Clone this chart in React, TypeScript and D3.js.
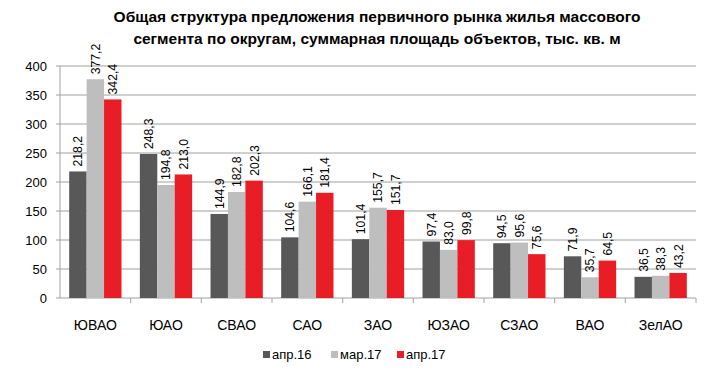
import React from "react";
import * as d3 from "d3";

const categories = ["ЮВАО", "ЮАО", "СВАО", "САО", "ЗАО", "ЮЗАО", "СЗАО", "ВАО", "ЗелАО"];
const seriesNames = ["апр.16", "мар.17", "апр.17"];
const apr16 = [218.2, 248.3, 144.9, 104.6, 101.4, 97.4, 94.5, 71.9, 36.5];
const mar17 = [377.2, 194.8, 182.8, 166.1, 155.7, 83.0, 95.6, 35.7, 38.3];
const apr17 = [342.4, 213.0, 202.3, 181.4, 151.7, 99.8, 75.6, 64.5, 43.2];
const yTicks = [0, 50, 100, 150, 200, 250, 300, 350, 400];
const titleLines = [
  "Общая структура  предложения первичного рынка жилья массового",
  "сегмента по округам, суммарная площадь объектов, тыс. кв. м",
];

const colors = ["#585858", "#BEBEBE", "#E91D25"];
const FONT = "Arial, 'Liberation Sans', sans-serif";

export default function App() {
  const W = 708, H = 376;
  const left = 60, right = 696, top = 66, bottom = 298;
  const series = [apr16, mar17, apr17];

  const x = d3.scaleBand<string>().domain(categories).range([left, right]).paddingInner(0.26).paddingOuter(0.13);
  const xs = d3.scaleBand<number>().domain([0, 1, 2]).range([0, x.bandwidth()]);
  const y = d3.scaleLinear().domain([0, 400]).range([bottom, top]);
  const step = x.step();
  const fmt = (v: number) => v.toFixed(1).replace(".", ",");

  return (
    <svg width={W} height={H} style={{ position: "absolute", left: 0, top: 0, background: "#fff" }} fontFamily={FONT}>
      <rect x={0} y={0} width={W} height={H} fill="#fff" />
      {titleLines.map((t, i) => (
        <text key={i} x={377} y={22 + i * 21.5} textAnchor="middle" fontSize={15.5} fontWeight="bold" fill="#000">
          {t}
        </text>
      ))}
      {yTicks.map((t) => (
        <g key={t}>
          {t > 0 && <line x1={left} x2={right} y1={y(t)} y2={y(t)} stroke="#a0a0a0" strokeWidth={1} />}
          <line x1={left - 4} x2={left} y1={y(t)} y2={y(t)} stroke="#a0a0a0" strokeWidth={1} />
          <text x={47} y={y(t)} dy="0.35em" textAnchor="end" fontSize={13} fill="#000">
            {t}
          </text>
        </g>
      ))}
      <line x1={left} x2={left} y1={top} y2={bottom} stroke="#a0a0a0" strokeWidth={1} />
      <line x1={left} x2={right} y1={bottom} y2={bottom} stroke="#a0a0a0" strokeWidth={1} />
      {categories.map((c, i) => (
        <line key={"t" + i} x1={left + (i + 1) * step} x2={left + (i + 1) * step} y1={bottom} y2={bottom + 5} stroke="#a0a0a0" />
      ))}
      {series.map((vals, si) =>
        vals.map((v, ci) => {
          const bx = (x(categories[ci]) as number) + (xs(si) as number);
          const bw = xs.bandwidth();
          const cx = bx + bw / 2;
          const ty = y(v) - 5;
          return (
            <g key={si + "-" + ci}>
              <rect x={bx} y={y(v)} width={bw} height={bottom - y(v)} fill={colors[si]} />
              <text
                transform={`translate(${cx},${ty}) rotate(-90)`}
                dy="0.36em"
                textAnchor="start"
                fontSize={12.2}
                fill="#000"
              >
                {fmt(v)}
              </text>
            </g>
          );
        })
      )}
      {categories.map((c) => (
        <text key={c} x={(x(c) as number) + x.bandwidth() / 2} y={330} textAnchor="middle" fontSize={14} fill="#000">
          {c}
        </text>
      ))}
      {seriesNames.map((s, i) => {
        const lx = [263, 331, 397][i];
        return (
          <g key={s}>
            <rect x={lx} y={351} width={7} height={7} fill={colors[i]} />
            <text x={lx + 9} y={359} fontSize={13} fill="#000">
              {s}
            </text>
          </g>
        );
      })}
    </svg>
  );
}
